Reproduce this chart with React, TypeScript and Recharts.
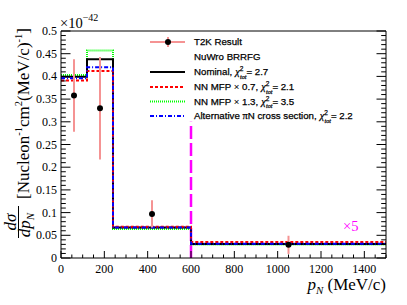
import React from "react";
import {
  ComposedChart,
  Line,
  Scatter,
  ErrorBar,
  XAxis,
  YAxis,
  ReferenceLine,
} from "recharts";

// bin edges (MeV/c); last bin shown x5
const binEdges = [0, 120, 240, 600, 1500];
const nominal = [0.399, 0.438, 0.067, 0.031, 0.031];
const mfp07 = [0.391, 0.412, 0.069, 0.035, 0.035];
const mfp13 = [0.403, 0.457, 0.064, 0.030, 0.030];
const altPiN = [0.396, 0.42, 0.067, 0.0315, 0.0315];

// T2K result points
const t2kX = [60, 180, 420, 1050];
const t2kY = [0.358, 0.33, 0.097, 0.029];
const t2kErr = [0.08, 0.113, 0.03, 0.02];

const cutLine = [
  { x: 600, y: 0 },
  { x: 600, y: 0.3 },
];

const xMajor = [0, 200, 400, 600, 800, 1000, 1200, 1400];
const xTicks = Array.from({ length: 31 }, (_, i) => i * 50);
const yTicks = Array.from({ length: 51 }, (_, i) => i / 100);

const histData = binEdges.map((x, i) => ({
  x,
  nominal: nominal[i],
  mfp07: mfp07[i],
  mfp13: mfp13[i],
  alt: altPiN[i],
}));
const t2kData = t2kX.map((x, i) => ({ x, y: t2kY[i], err: t2kErr[i] }));

const W = 407;
const H = 305;
const serif = "Liberation Serif, Times New Roman, serif";
const sans = "Liberation Sans, Arial, sans-serif";
const pink = "#f59393";

const isMajorY = (v: number) => Math.round(v * 100) % 5 === 0;

function LeftTick(props: any) {
  const { x, y, payload } = props;
  const major = isMajorY(payload.value);
  return (
    <g>
      <line x1={x} x2={x + (major ? 9.5 : 4.8)} y1={y} y2={y} stroke="#000" />
      {major && (
        <text
          x={x - 4}
          y={y + 4}
          textAnchor="end"
          fontFamily={serif}
          fontSize={12}
          fill="#000"
        >
          {String(payload.value)}
        </text>
      )}
    </g>
  );
}

function RightTick(props: any) {
  const { x, y, payload } = props;
  const major = isMajorY(payload.value);
  return <line x1={x} x2={x - (major ? 9.5 : 4.8)} y1={y} y2={y} stroke="#000" />;
}

function BottomTick(props: any) {
  const { x, y, payload } = props;
  const major = xMajor.includes(payload.value);
  return (
    <g>
      <line x1={x} x2={x} y1={y} y2={y - (major ? 7 : 3.5)} stroke="#000" />
      {major && (
        <text
          x={x}
          y={y + 15}
          textAnchor="middle"
          fontFamily={serif}
          fontSize={12}
          fill="#000"
        >
          {payload.value}
        </text>
      )}
    </g>
  );
}

function ChiSq({ value }: { value: string }) {
  return (
    <>
      <tspan dx={3} fontFamily={serif} fontStyle="italic" fontSize={10.5}>
        χ
      </tspan>
      <tspan dy={-4} fontSize={6.5}>
        2
      </tspan>
      <tspan dx={-3.4} dy={7.5} fontSize={6} fontStyle="italic" fontFamily={serif}>
        tot
      </tspan>
      <tspan dy={-3.5}>{"= " + value}</tspan>
    </>
  );
}

function Overlay() {
  const rows = [42, 57, 72, 87, 101.5, 116];
  const tx = 194;
  const fs = 9.7;
  return (
    <svg
      width={W}
      height={H}
      style={{ position: "absolute", left: 0, top: 0, pointerEvents: "none" }}
    >
      {/* exponent */}
      <text x={60} y={28} fontFamily={serif} fontSize={14.5} fill="#000">
        ×10
        <tspan dy={-7} fontSize={10}>
          −42
        </tspan>
      </text>

      {/* y title */}
      <g transform="translate(16,222) rotate(-90)">
        <text x={0} y={0} textAnchor="middle" fontFamily={serif} fontStyle="italic" fontSize={17}>
          dσ
        </text>
        <line x1={-16} x2={16} y1={2.5} y2={2.5} stroke="#000" strokeWidth={1} />
        <text x={-3} y={14} textAnchor="middle" fontFamily={serif} fontStyle="italic" fontSize={17}>
          dp
          <tspan fontSize={11} dy={4}>
            N
          </tspan>
        </text>
      </g>
      <g transform="translate(29,199) rotate(-90)">
        <text x={0} y={0} fontFamily={serif} fontSize={17} fill="#000">
          [Nucleon
          <tspan dy={-7} fontSize={10.5}>
            -1
          </tspan>
          <tspan dy={7}>cm</tspan>
          <tspan dy={-7} fontSize={10.5}>
            2
          </tspan>
          <tspan dy={7}>(MeV/c)</tspan>
          <tspan dy={-7} fontSize={10.5}>
            -1
          </tspan>
          <tspan dy={7}>]</tspan>
        </text>
      </g>

      {/* x title */}
      <text x={386} y={290} textAnchor="end" fontFamily={serif} fontSize={17} fill="#000">
        <tspan fontStyle="italic">p</tspan>
        <tspan fontSize={11} dy={4} fontStyle="italic">
          N
        </tspan>
        <tspan dy={-4}>{" (MeV/c)"}</tspan>
      </text>

      {/* x5 note */}
      <text x={343} y={231} fontFamily={serif} fontSize={14.5} fill="#ff00ff">
        ×5
      </text>

      {/* legend */}
      <line x1={150} x2={185} y1={rows[0]} y2={rows[0]} stroke={pink} strokeWidth={2} />
      <line x1={168} x2={168} y1={rows[0] - 5} y2={rows[0] + 5} stroke={pink} strokeWidth={2} />
      <circle cx={168} cy={rows[0]} r={3} fill="#000" />
      <line x1={150} x2={185} y1={rows[2]} y2={rows[2]} stroke="#000" strokeWidth={2} />
      <line x1={150} x2={185} y1={rows[3]} y2={rows[3]} stroke="#ff0000" strokeWidth={2} strokeDasharray="3 2" />
      <line x1={150} x2={185} y1={rows[4]} y2={rows[4]} stroke="#00ff00" strokeWidth={2} strokeDasharray="1 1" />
      <line x1={150} x2={185} y1={rows[5]} y2={rows[5]} stroke="#0000ff" strokeWidth={2} strokeDasharray="4 2 1 2" />

      <g fontFamily={sans} fontSize={fs} fill="#000" stroke="#000" strokeWidth={0.25}>
        <text x={tx} y={rows[0] + 3.4}>T2K Result</text>
        <text x={tx} y={rows[1] + 3.4}>NuWro BRRFG</text>
        <text x={tx} y={rows[2] + 3.4}>
          Nominal,
          <ChiSq value="2.7" />
        </text>
        <text x={tx} y={rows[3] + 3.4}>
          NN MFP <tspan strokeWidth={0}>×</tspan> 0.7,
          <ChiSq value="2.1" />
        </text>
        <text x={tx} y={rows[4] + 3.4}>
          NN MFP <tspan strokeWidth={0}>×</tspan> 1.3,
          <ChiSq value="3.5" />
        </text>
        <text x={tx} y={rows[5] + 3.4}>
          Alternative <tspan fontFamily={serif} fontSize={10.5}>π</tspan>N cross section,
          <ChiSq value="2.2" />
        </text>
      </g>
    </svg>
  );
}

export default function App() {
  return (
    <div style={{ position: "absolute", left: 0, top: 0, width: W, height: H, background: "#fff" }}>
      <ComposedChart
        width={W}
        height={H}
        data={histData}
        margin={{ top: 31, right: 0, bottom: 0, left: 0 }}
      >
        <XAxis
          dataKey="x"
          type="number"
          domain={[0, 1500]}
          ticks={xTicks}
          interval={0}
          height={47}
          tickSize={0}
          tickMargin={0}
          tickLine={false}
          tick={<BottomTick />}
          axisLine={{ stroke: "#000" }}
          allowDataOverflow
        />
        <YAxis
          yAxisId="l"
          type="number"
          domain={[0, 0.5]}
          ticks={yTicks}
          interval={0}
          width={61}
          tickSize={0}
          tickMargin={0}
          tickLine={false}
          tick={<LeftTick />}
          axisLine={{ stroke: "#000" }}
          allowDataOverflow
        />
        <YAxis
          yAxisId="r"
          orientation="right"
          type="number"
          domain={[0, 0.5]}
          ticks={yTicks}
          interval={0}
          width={21}
          tickSize={0}
          tickMargin={0}
          tickLine={false}
          tick={<RightTick />}
          axisLine={{ stroke: "#000" }}
          allowDataOverflow
        />
        <ReferenceLine yAxisId="l" y={0.5} stroke="#000" />
        <ReferenceLine
          yAxisId="l"
          segment={cutLine}
          stroke="#ff00ff"
          strokeWidth={2.5}
          strokeDasharray="13 4"
        />
        <Line
          yAxisId="l"
          type="stepAfter"
          dataKey="mfp13"
          stroke="#00ff00"
          strokeWidth={2}
          strokeDasharray="1 1"
          dot={false}
          activeDot={false}
          isAnimationActive={false}
        />
        <Line
          yAxisId="l"
          type="stepAfter"
          dataKey="nominal"
          stroke="#000"
          strokeWidth={2}
          dot={false}
          activeDot={false}
          isAnimationActive={false}
        />
        <Line
          yAxisId="l"
          type="stepAfter"
          dataKey="mfp07"
          stroke="#ff0000"
          strokeWidth={2}
          strokeDasharray="3 2"
          dot={false}
          activeDot={false}
          isAnimationActive={false}
        />
        <Line
          yAxisId="l"
          type="stepAfter"
          dataKey="alt"
          stroke="#0000ff"
          strokeWidth={2}
          strokeDasharray="4 2 1 2"
          dot={false}
          activeDot={false}
          isAnimationActive={false}
        />
        <Scatter
          yAxisId="l"
          data={t2kData}
          dataKey="y"
          fill="#000"
          shape={(p: any) => <circle cx={p.cx} cy={p.cy} r={3} fill="#000" />}
          isAnimationActive={false}
        >
          <ErrorBar dataKey="err" direction="y" width={0} stroke={pink} strokeWidth={2} />
        </Scatter>
      </ComposedChart>
      <Overlay />
    </div>
  );
}
